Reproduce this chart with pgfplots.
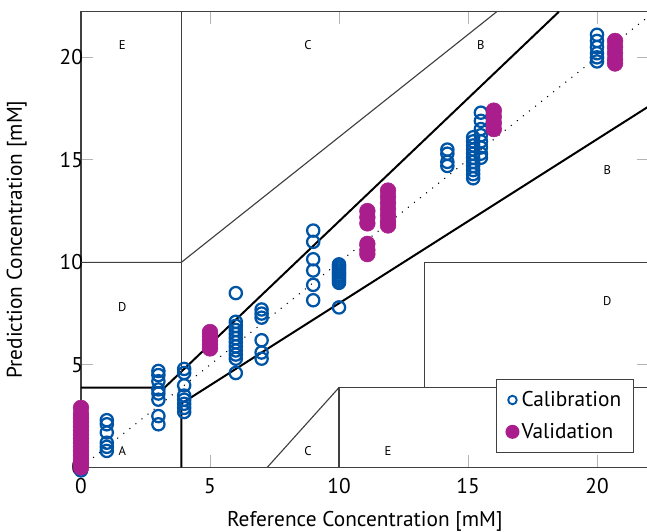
\documentclass[border=0pt]{standalone}
\usepackage{fontspec}
\setmainfont{PT Sans}
\usepackage{pgfplots}
\pgfplotsset{compat=1.18}

\definecolor{calblue}{HTML}{0054A6}
\definecolor{valpurple}{HTML}{A91E8C}
\definecolor{axgray}{HTML}{404040}
\definecolor{tickgray}{HTML}{B4B4B4}

\begin{document}
\begin{tikzpicture}
\begin{axis}[
    x=19.35pt, y=15.375pt,
    xmin=0, xmax=22, ymin=0, ymax=22.22,
    clip=false,
    axis line style={axgray, line width=0.9pt},
    xtick={0,5,10,15,20}, ytick={0,5,10,15,20},
    tick align=inside,
    major tick length=9pt,
    tick style={tickgray, line width=0.7pt},
    font=\fontsize{16}{18}\selectfont,
    /pgf/number format/assume math mode=true,
    xticklabel style={yshift=-5pt},
    yticklabel style={xshift=5pt},
    xlabel={Reference Concentration [mM]},
    ylabel={Prediction Concentration [mM]},
    xlabel style={at={(axis description cs:0.5,-0.1186)}, anchor=center},
    ylabel style={at={(axis description cs:-0.113,0.5)}, anchor=center},
    legend style={at={(axis cs:21.43,0.7)}, anchor=south east,
        draw=axgray, line width=0.9pt, font=\fontsize{16}{18}\selectfont,
        row sep=7pt, inner xsep=7pt, inner ysep=7pt},
    legend cell align=left,
]
% zone boundaries (Clarke error grid in mM)
\addplot[black, line width=0.8pt, forget plot, dash pattern=on 0.8pt off 5pt] coordinates {(0,0) (22.22,22.22)};
\addplot[black, line width=1.5pt, forget plot] coordinates {(0,3.89) (3.24,3.89) (18.52,22.22)};
\addplot[black, line width=1.5pt, forget plot] coordinates {(3.89,0) (3.89,3.11) (22.22,17.78)};
\addplot[axgray, line width=0.85pt, forget plot] coordinates {(3.89,4.67) (3.89,22.22)};
\addplot[axgray, line width=0.85pt, forget plot] coordinates {(0,10) (3.89,10) (16.11,22.22)};
\addplot[axgray, line width=0.85pt, forget plot] coordinates {(10,0) (10,3.89) (22.22,3.89)};
\addplot[axgray, line width=0.85pt, forget plot] coordinates {(13.33,3.89) (13.33,10) (22.22,10)};
\addplot[axgray, line width=0.85pt, forget plot] coordinates {(7.22,0) (10,3.89)};
% calibration
\addplot[only marks, mark=o, mark size=4.6pt, line width=1.7pt, calblue,
    mark options={solid}, legend image post style={mark size=3.2pt, line width=1.4pt}] coordinates {
    (0,-0.15) (0,0.3) (0,0.7) (0,1.2)
    (1,2.3) (1,2.1) (1,1.7) (1,1.2) (1,1.0) (1,0.8)
    (3,4.7) (3,4.5) (3,4.2) (3,3.8) (3,3.6) (3,3.3) (3,2.5) (3,2.1)
    (4,4.8) (4,4.6) (4,4.0) (4,3.5) (4,3.3) (4,3.1) (4,2.9) (4,2.7)
    (6,8.5) (6,7.1) (6,6.9) (6,6.7) (6,6.5) (6,6.3) (6,6.1) (6,5.9) (6,5.7) (6,5.5) (6,5.3) (6,4.6)
    (7,7.7) (7,7.5) (7,7.3) (7,6.2) (7,5.6) (7,5.3)
    (9,11.55) (9,11.0) (9,10.15) (9,9.6) (9,8.9) (9,8.15)
    (10,9.9) (10,9.8) (10,9.7) (10,9.6) (10,9.5) (10,9.4) (10,9.3) (10,9.2) (10,9.1) (10,9.0) (10,7.8)
    (14.2,15.5) (14.2,15.3) (14.2,14.9) (14.2,14.7)
    (15.2,16.1) (15.2,15.9) (15.2,15.7) (15.2,15.5) (15.2,15.3) (15.2,15.1) (15.2,14.9) (15.2,14.7) (15.2,14.5) (15.2,14.3) (15.2,14.1)
    (15.5,17.3) (15.5,16.9) (15.5,16.5) (15.5,16.2) (15.5,15.9) (15.5,15.6) (15.5,15.3) (15.5,15.1)
    (20,21.1) (20,20.8) (20,20.5) (20,20.2) (20,20.0) (20,19.8)
};
\addlegendentry{Calibration}
% validation
\addplot[only marks, mark=*, mark size=5.9pt, valpurple,
    mark options={draw=valpurple, fill=valpurple}, legend image post style={mark size=4.8pt}] coordinates {
    (0,0.0) (0,0.2) (0,0.4) (0,0.6) (0,0.8) (0,1.0) (0,1.2) (0,1.4) (0,1.6) (0,1.8) (0,2.0) (0,2.2) (0,2.4) (0,2.6) (0,2.9)
    (5,6.6) (5,6.4) (5,6.2) (5,6.0) (5,5.8)
    (11.1,12.5) (11.1,12.2) (11.1,11.9) (11.1,10.9) (11.1,10.6) (11.1,10.4)
    (11.9,13.5) (11.9,13.2) (11.9,12.9) (11.9,12.6) (11.9,12.3) (11.9,12.0) (11.9,11.8)
    (16,17.4) (16,17.1) (16,16.8) (16,16.5)
    (20.7,20.8) (20.7,20.5) (20.7,20.2) (20.7,19.9) (20.7,19.7)
};
\addlegendentry{Validation}
% zone labels
\begin{scope}[every node/.style={font=\fontsize{9.5}{10}\selectfont}]
\node at (axis cs:1.6,20.6) {E};
\node at (axis cs:8.8,20.6) {C};
\node at (axis cs:15.5,20.6) {B};
\node at (axis cs:20.4,14.5) {B};
\node at (axis cs:1.6,7.8) {D};
\node at (axis cs:20.4,8.1) {D};
\node at (axis cs:1.6,0.8) {A};
\node at (axis cs:8.8,0.8) {C};
\node at (axis cs:11.9,0.8) {E};
\end{scope}
\end{axis}
\pgfresetboundingbox
\path (-60.75pt,-48.5pt) rectangle (424.5pt,350.5pt);
\end{tikzpicture}
\end{document}
